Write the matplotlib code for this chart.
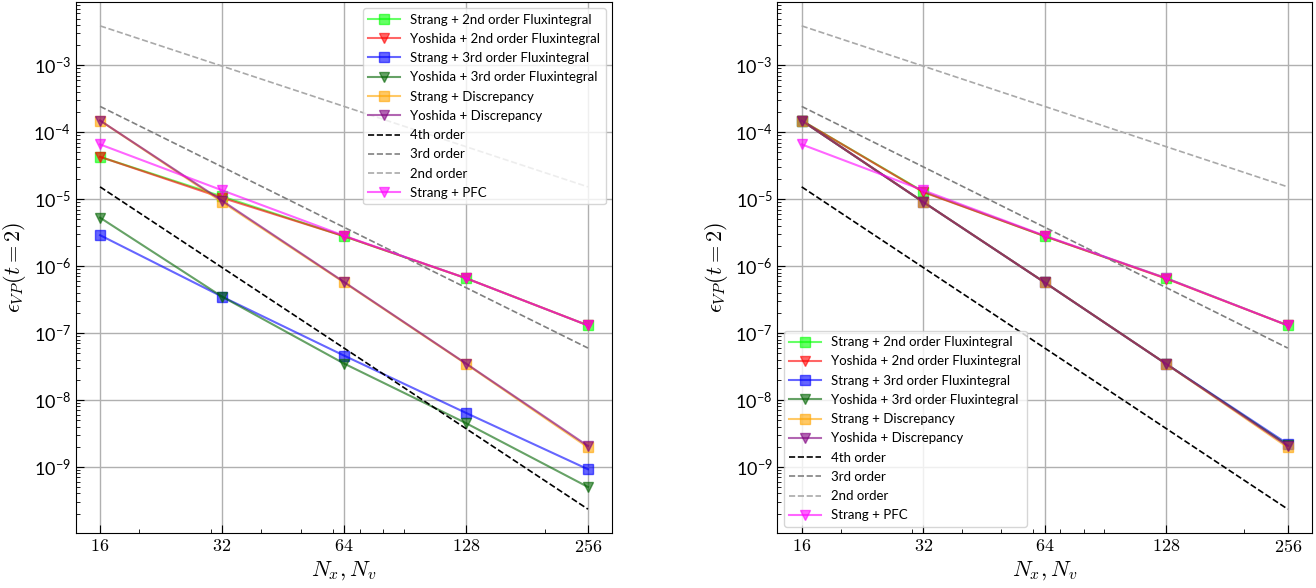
import numpy as np
import matplotlib
matplotlib.use('Agg')
import matplotlib.pyplot as plt
from matplotlib.ticker import FixedLocator, FixedFormatter, NullFormatter

# Configuración
plt.rcParams['mathtext.fontset'] = 'cm'
plt.rcParams['font.family'] = ['Lato', 'DejaVu Sans']

N = [16, 32, 64, 128, 256]
N_LABELS = ['$16$', '$32$', '$64$', '$128$', '$256$']

# Panel izquierdo
strang_flux2_a = [4.3e-5, 1.1e-5, 2.8e-6, 6.6e-7, 1.3e-7]
yoshida_flux2_a = [4.3e-5, 1.05e-5, 2.8e-6, 6.6e-7, 1.3e-7]
strang_flux3_a = [2.9e-6, 3.5e-7, 4.6e-8, 6.4e-9, 9.2e-10]
yoshida_flux3_a = [5.3e-6, 3.5e-7, 3.5e-8, 4.5e-9, 5.0e-10]
strang_disc_a = [1.5e-4, 9.1e-6, 5.7e-7, 3.45e-8, 1.95e-9]
yoshida_disc_a = [1.5e-4, 9.5e-6, 5.8e-7, 3.5e-8, 2.05e-9]

# Panel derecho
strang_flux2_b = [1.5e-4, 1.3e-5, 2.8e-6, 6.6e-7, 1.3e-7]
yoshida_flux2_b = [1.5e-4, 1.28e-5, 2.8e-6, 6.5e-7, 1.3e-7]
strang_flux3_b = [1.5e-4, 9.1e-6, 5.7e-7, 3.45e-8, 2.2e-9]
yoshida_flux3_b = [1.5e-4, 9.1e-6, 5.7e-7, 3.45e-8, 2.1e-9]
strang_disc_b = [1.5e-4, 9.1e-6, 5.7e-7, 3.45e-8, 1.95e-9]
yoshida_disc_b = [1.5e-4, 9.1e-6, 5.7e-7, 3.45e-8, 2.05e-9]

# Comunes
strang_pfc = [6.6e-5, 1.36e-5, 2.85e-6, 6.6e-7, 1.3e-7]
order4 = [1.53e-5, 9.54e-7, 5.96e-8, 3.73e-9, 2.33e-10]
order3 = [2.44e-4, 3.05e-5, 3.81e-6, 4.77e-7, 5.96e-8]
order2 = [3.9e-3, 9.77e-4, 2.44e-4, 6.1e-5, 1.53e-5]


def draw_panel(ax, flux2_s, flux2_y, flux3_s, flux3_y, disc_s, disc_y, legend_loc):
    kw = dict(alpha=0.6, lw=1.5, ms=6.5)
    ax.plot(N, flux2_s, color='lime', marker='s', label='Strang + 2nd order Fluxintegral', **kw)
    ax.plot(N, flux2_y, color='red', marker='v', label='Yoshida + 2nd order Fluxintegral', **kw)
    ax.plot(N, flux3_s, color='blue', marker='s', label='Strang + 3rd order Fluxintegral', **kw)
    ax.plot(N, flux3_y, color='darkgreen', marker='v', label='Yoshida + 3rd order Fluxintegral', **kw)
    ax.plot(N, disc_s, color='orange', marker='s', label='Strang + Discrepancy', **kw)
    ax.plot(N, disc_y, color='purple', marker='v', label='Yoshida + Discrepancy', **kw)
    ax.plot(N, order4, color='black', ls='--', lw=1.2, label='4th order')
    ax.plot(N, order3, color='gray', ls='--', lw=1.2, label='3rd order')
    ax.plot(N, order2, color='darkgray', ls='--', lw=1.2, label='2nd order')
    ax.plot(N, strang_pfc, color='magenta', marker='v', label='Strang + PFC', **kw)

    ax.set_xscale('log')
    ax.set_yscale('log')
    ax.xaxis.set_major_locator(FixedLocator(N))
    ax.xaxis.set_major_formatter(FixedFormatter(N_LABELS))
    ax.xaxis.set_minor_formatter(NullFormatter())
    ax.yaxis.set_minor_formatter(NullFormatter())
    ax.tick_params(which='both', direction='in', labelsize=13)
    ax.tick_params(which='major', length=6)
    ax.tick_params(which='minor', length=3)
    ax.grid(True, which='major', color='#b0b0b0', lw=1.0)
    ax.set_xlabel('$N_x, N_v$', fontsize=16, labelpad=3)
    ax.set_ylabel('$\\epsilon_{VP}(t=2)$', fontsize=16)
    ax.legend(loc=legend_loc, fontsize=9.5, handlelength=2.4, labelspacing=0.55)


fig = plt.figure(figsize=(13.16, 5.88), dpi=100)
ax1 = fig.add_axes([0.0575, 0.0930, 0.4078, 0.9041])
ax2 = fig.add_axes([0.5907, 0.0930, 0.4063, 0.9041])

draw_panel(ax1, strang_flux2_a, yoshida_flux2_a, strang_flux3_a, yoshida_flux3_a,
           strang_disc_a, yoshida_disc_a, 'upper right')
draw_panel(ax2, strang_flux2_b, yoshida_flux2_b, strang_flux3_b, yoshida_flux3_b,
           strang_disc_b, yoshida_disc_b, 'lower left')

fig.savefig('out.png', dpi=100, facecolor='white')
plt.close(fig)
